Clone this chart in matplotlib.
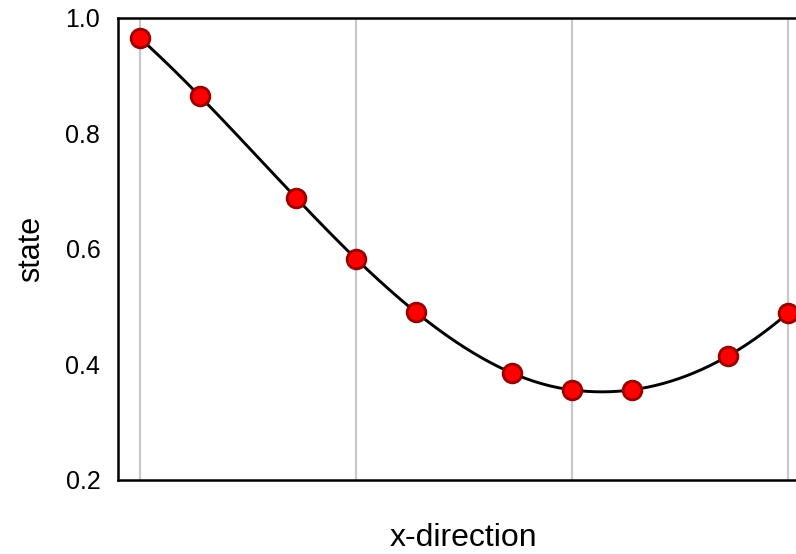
import numpy as np
import matplotlib
matplotlib.use("Agg")
import matplotlib.pyplot as plt

# Element boundaries (gridlines) and GLL node positions
element_edges = [0.0, 1.0, 2.0, 3.0]
x_nodes = [0.0, 0.276, 0.724, 1.0, 1.276, 1.724, 2.0, 2.276, 2.724, 3.0]
state = [0.965, 0.865, 0.688, 0.583, 0.491, 0.385, 0.356, 0.356, 0.415, 0.489]
y_ticks = [0.2, 0.4, 0.6, 0.8, 1.0]
y_tick_labels = ["0.2", "0.4", "0.6", "0.8", "1.0"]

plt.rcParams['font.family'] = ['Liberation Sans', 'DejaVu Sans']

fig = plt.figure(figsize=(7.96, 5.54), dpi=100)
ax = fig.add_axes([0.1487, 0.1336, 0.8683, 0.834])

for e in element_edges:
    ax.axvline(e, color='#c8c8c8', lw=1.6, zorder=1)

# Smooth curve: per-element polynomial interpolation through the nodes
xn = np.array(x_nodes)
yn = np.array(state)
for k in range(len(element_edges) - 1):
    idx = slice(3 * k, 3 * k + 4)
    xs, ys = xn[idx], yn[idx]
    xx = np.linspace(xs[0], xs[-1], 200)
    yy = np.zeros_like(xx)
    for i in range(4):
        li = np.ones_like(xx)
        for j in range(4):
            if j != i:
                li *= (xx - xs[j]) / (xs[i] - xs[j])
        yy += ys[i] * li
    ax.plot(xx, yy, color='black', lw=2.1, zorder=2)

ax.plot(x_nodes, state, 'o', color='#ff0000', markeredgecolor='#990000',
        markersize=13.5, markeredgewidth=2.0, zorder=3, clip_on=False)

ax.set_xlim(-0.1, 3.1)
ax.set_ylim(0.2, 1.0)
ax.set_xticks([])
ax.set_yticks(y_ticks)
ax.set_yticklabels(y_tick_labels)
ax.tick_params(axis='y', length=0, pad=13, labelsize=18)
for s in ['left', 'bottom', 'top', 'right']:
    ax.spines[s].set_linewidth(1.8)
ax.set_xlabel('x-direction', fontsize=23, labelpad=31)
ax.set_ylabel('state', fontsize=22, labelpad=14)

fig.savefig('out.png', dpi=100)
